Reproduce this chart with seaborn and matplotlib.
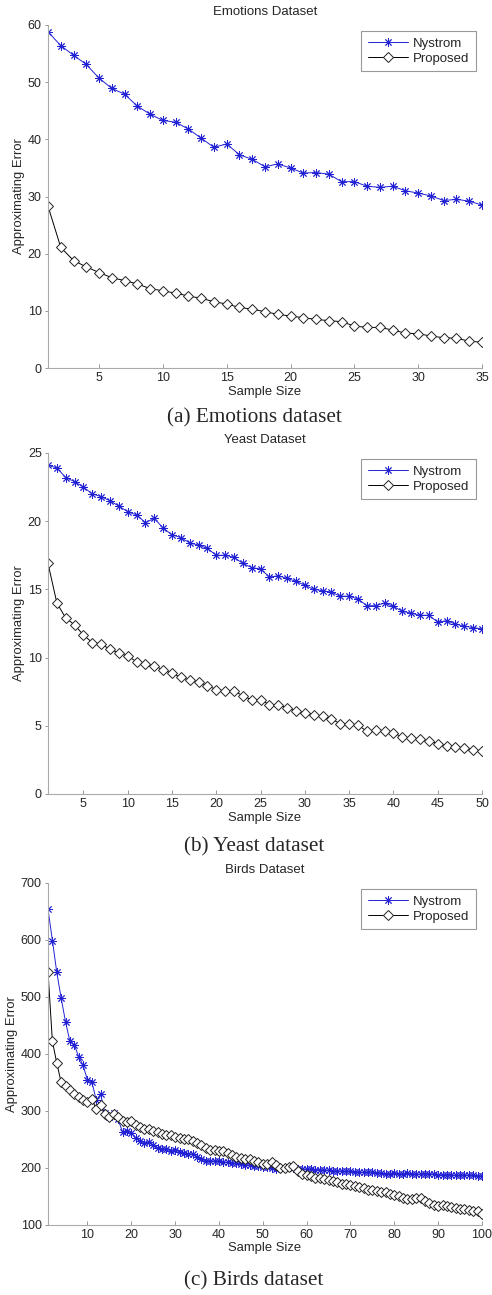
import numpy as np
import matplotlib
matplotlib.use('Agg')
import matplotlib.pyplot as plt
import seaborn as sns

# Emotions dataset (sample size 1..35)
emo_x = list(range(1, 36))
emo_nystrom = [58.8, 56.4, 54.7, 53.1, 50.7, 48.9, 47.9, 45.8, 44.4, 43.3,
               43.0, 41.8, 40.2, 38.6, 39.2, 37.3, 36.5, 35.2, 35.7, 35.0,
               34.1, 34.2, 33.9, 32.6, 32.6, 31.8, 31.6, 31.8, 31.0, 30.6,
               30.1, 29.3, 29.5, 29.2, 28.5]
emo_proposed = [28.3, 21.1, 18.8, 17.7, 16.7, 15.8, 15.3, 14.7, 13.9, 13.5,
                13.1, 12.6, 12.2, 11.6, 11.2, 10.6, 10.3, 9.85, 9.4, 9.1,
                8.8, 8.5, 8.3, 8.1, 7.35, 7.1, 7.1, 6.65, 6.1, 6.0,
                5.6, 5.3, 5.2, 4.7, 4.5]

# Yeast dataset (sample size 1..50)
yeast_x = list(range(1, 51))
yeast_nystrom = [24.1, 23.9, 23.2, 22.9, 22.5, 22.0, 21.8, 21.5, 21.1, 20.7,
                 20.45, 19.9, 20.2, 19.5, 19.0, 18.8, 18.4, 18.25, 18.0, 17.5,
                 17.5, 17.35, 16.9, 16.6, 16.5, 15.9, 16.0, 15.8, 15.6, 15.3,
                 15.0, 14.9, 14.8, 14.5, 14.5, 14.3, 13.8, 13.8, 14.0, 13.75,
                 13.4, 13.25, 13.1, 13.1, 12.6, 12.7, 12.45, 12.3, 12.2, 12.1]
yeast_proposed = [16.9, 14.0, 12.9, 12.4, 11.65, 11.1, 11.0, 10.6, 10.35, 10.1,
                  9.7, 9.5, 9.4, 9.1, 8.85, 8.55, 8.35, 8.2, 7.95, 7.65,
                  7.55, 7.55, 7.2, 6.9, 6.9, 6.55, 6.55, 6.3, 6.1, 5.9,
                  5.8, 5.7, 5.5, 5.15, 5.1, 5.05, 4.6, 4.7, 4.6, 4.45,
                  4.2, 4.1, 4.05, 3.9, 3.7, 3.55, 3.45, 3.4, 3.25, 3.15]

# Birds dataset (sample size 1..100)
birds_x = list(range(1, 101))
birds_nystrom = [654, 599, 543, 498, 456, 422, 416, 395, 380, 354,
                 351, 319, 329, 296, 290, 297, 285, 263, 265, 262,
                 252, 248, 244, 245, 240, 235, 234, 233, 230, 232,
                 228, 226, 224, 225, 220, 215, 212, 213, 212, 212,
                 210, 210, 208, 208, 207, 206, 205, 204, 203, 202,
                 201, 200, 198, 200, 200, 201, 200, 199, 198, 198,
                 198, 197, 197, 196, 196, 195, 195, 194, 194, 194,
                 193, 193, 192, 192, 192, 191, 191, 190, 190, 191,
                 190, 190, 191, 190, 189, 189, 190, 190, 189, 188,
                 188, 188, 188, 187, 187, 188, 187, 187, 186, 186]
birds_proposed = [544, 422, 384, 350, 343, 336, 330, 325, 320, 315,
                  321, 303, 310, 295, 290, 295, 290, 282, 280, 283,
                  275, 272, 268, 268, 265, 263, 260, 258, 258, 255,
                  252, 250, 250, 247, 243, 240, 235, 232, 232, 230,
                  230, 227, 223, 220, 218, 216, 215, 212, 210, 207,
                  207, 210, 205, 200, 200, 202, 203, 195, 190, 188,
                  186, 183, 182, 180, 178, 177, 175, 172, 172, 170,
                  168, 167, 165, 162, 162, 160, 158, 157, 155, 152,
                  150, 148, 145, 145, 148, 147, 142, 138, 135, 133,
                  135, 133, 131, 130, 128, 128, 127, 125, 124, 120]

titles = ['Emotions Dataset', 'Yeast Dataset', 'Birds Dataset']
captions = ['(a) Emotions dataset', '(b) Yeast dataset', '(c) Birds dataset']

sns.set_style('white')
plt.rcParams['font.family'] = ['Liberation Sans', 'DejaVu Sans']

fig = plt.figure(figsize=(4.92, 12.95), dpi=100)

# axes boxes in figure fractions, one per panel
boxes = [[0.0976, 0.7158, 0.882, 0.2649],
         [0.0976, 0.3869, 0.882, 0.2633],
         [0.0976, 0.0541, 0.882, 0.2641]]
cap_y = [-0.146, -0.155, -0.164]

panels = [
    (emo_x, emo_nystrom, emo_proposed, (1, 35), (0, 60), np.arange(5, 36, 5), np.arange(0, 61, 10)),
    (yeast_x, yeast_nystrom, yeast_proposed, (1, 50), (0, 25), np.arange(5, 51, 5), np.arange(0, 26, 5)),
    (birds_x, birds_nystrom, birds_proposed, (1, 100), (100, 700), np.arange(10, 101, 10), np.arange(100, 701, 100)),
]

blue = '#2222d4'
star = (8, 2, 0)  # matlab-like asterisk
for i, (xs, nys, prop, xl, yl, xt, yt) in enumerate(panels):
    ax = fig.add_axes(boxes[i])
    sns.lineplot(x=xs, y=nys, ax=ax, color=blue, linewidth=0.7, marker=star,
                 markersize=6, markeredgecolor=blue, markerfacecolor=blue,
                 markeredgewidth=0.65, label='Nystrom')
    sns.lineplot(x=xs, y=prop, ax=ax, color='black', linewidth=0.7, marker='D',
                 markersize=5.5, markeredgecolor='#222222', markerfacecolor='white',
                 markeredgewidth=0.7, label='Proposed')
    ax.set_xlim(*xl)
    ax.set_ylim(*yl)
    ax.set_xticks(xt)
    ax.set_yticks(yt)
    ax.tick_params(axis='x', direction='in', length=3, width=0.6, color='#888888',
                   labelsize=9, pad=3, bottom=True)
    ax.tick_params(axis='y', direction='out', length=2.5, width=0.6, color='#888888',
                   labelsize=9, pad=2, left=True)
    for s in ['top', 'right']:
        ax.spines[s].set_visible(False)
    for s in ['left', 'bottom']:
        ax.spines[s].set_color('#aaaaaa')
        ax.spines[s].set_linewidth(0.8)
    ax.set_title(titles[i], fontsize=9.5, pad=7)
    ax.set_xlabel('Sample Size', fontsize=9.4, labelpad=1)
    ax.set_ylabel('Approximating Error', fontsize=9.4, labelpad=2)
    leg = ax.legend(loc='upper right', bbox_to_anchor=(0.986, 0.982), fontsize=9.5,
                    borderaxespad=0, fancybox=False, framealpha=1, edgecolor='#999999',
                    borderpad=0.5, handlelength=3.0, handletextpad=0.4, labelspacing=0.2)
    leg.get_frame().set_linewidth(0.8)
    ax.text(0.475, cap_y[i], captions[i], transform=ax.transAxes, ha='center', va='center',
            fontsize=15.3, family=['Liberation Serif', 'DejaVu Serif'])

fig.savefig('out.png', dpi=100)
